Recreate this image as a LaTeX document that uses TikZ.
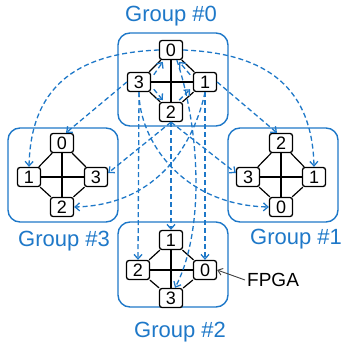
\documentclass[tikz,border=0pt]{standalone}
\usepackage{fontspec}
\setmainfont{Liberation Sans}
\usetikzlibrary{arrows.meta}
\definecolor{gblue}{RGB}{30,120,200}
\begin{document}
\begin{tikzpicture}[x=1pt,y=-1pt,
  grp/.style={draw=gblue,line width=1.4pt,rounded corners=12pt},
  nd/.style={draw=black,line width=1.3pt,rounded corners=2.5pt,fill=white,minimum width=23pt,minimum height=19pt,inner sep=0pt,font=\fontsize{18}{18}\selectfont},
  lnk/.style={black,line width=1.2pt},
  dsh/.style={gblue,line width=1.3pt,dash pattern=on 5pt off 3pt,-{Straight Barb[length=4.5pt,width=8pt]}},
  glabel/.style={text=gblue,font=\fontsize{22}{22}\selectfont,inner sep=0pt,anchor=base}
]
\useasboundingbox (0,0) rectangle (343,344);
% group boxes
\draw[grp] (118,33) rectangle (228,126);
\draw[grp] (8,128) rectangle (118,222);
\draw[grp] (228,128) rectangle (338,222);
\draw[grp] (118,222) rectangle (228,307);
% labels
\node[glabel] (l0) at (171,22) {Group \#0};
\node[glabel] (l3) at (64,246) {Group \#3};
\node[glabel] (l1) at (296,244) {Group \#1};
\node[glabel] (l2) at (180,337) {Group \#2};
% nodes group 0
\node[nd] (g0n0) at (171,50) {0};
\node[nd] (g0n3) at (139,82) {3};
\node[nd] (g0n1) at (205,82) {1};
\node[nd] (g0n2) at (171,112) {2};
% group 3
\node[nd] (g3n0) at (62,143) {0};
\node[nd] (g3n1) at (29,177) {1};
\node[nd] (g3n3) at (96,177) {3};
\node[nd] (g3n2) at (62,207) {2};
% group 1
\node[nd] (g1n2) at (281,143) {2};
\node[nd] (g1n3) at (248,177) {3};
\node[nd] (g1n1) at (314,177) {1};
\node[nd] (g1n0) at (281,207) {0};
% group 2
\node[nd] (g2n1) at (171,240) {1};
\node[nd] (g2n2) at (138,270) {2};
\node[nd] (g2n0) at (205,270) {0};
\node[nd] (g2n3) at (171,298) {3};
% intra-group links
\foreach \t/\l/\r/\b in {g0n0/g0n3/g0n1/g0n2, g3n0/g3n1/g3n3/g3n2, g1n2/g1n3/g1n1/g1n0, g2n1/g2n2/g2n0/g2n3}{
  \draw[lnk] (\t) -- (\b);
  \draw[lnk] (\l) -- (\r);
  \draw[lnk] (\t) -- (\l);
  \draw[lnk] (\t) -- (\r);
  \draw[lnk] (\b) -- (\l);
  \draw[lnk] (\b) -- (\r);
}
% dashed inter-group arrows
\draw[dsh] (g0n0.west) .. controls (85,53) and (31,80) .. (g3n1.north);
\draw[dsh] (g0n0.east) .. controls (257,53) and (312,80) .. (g1n1.north);
\draw[dsh] (g0n3.west) -- ([xshift=4pt]g3n0.north);
\draw[dsh] (g0n1.east) -- ([xshift=-4pt]g1n2.north);
\draw[dsh] (g0n2.south) -- ([yshift=4pt]g3n3.east);
\draw[dsh] (g0n2.south) -- ([yshift=4pt]g1n3.west);
\draw[dsh] (g0n1.south) .. controls (195,140) and (160,205) .. (g3n2.east);
\draw[dsh] (g0n3.south) .. controls (139,140) and (182,205) .. (g1n0.west);
\draw[dsh] (g0n3.south) -- (g2n2.north);
\draw[dsh] (g0n2.south) -- (g2n1.north);
\draw[dsh] (g0n1.south) -- (g2n0.north);
\draw[dsh] (g0n0.-60) .. controls (200,130) and (205,230) .. ([xshift=4pt]g2n3.north);
% dashed intra-group arrows in group 0
\coordinate (a3) at (153.8,74.8); \coordinate (a0l) at (162.8,61.8);
\coordinate (a1) at (190.2,74.8); \coordinate (a0r) at (179.2,61.8);
\coordinate (b3) at (153.8,89.2); \coordinate (b2l) at (162.8,100.2);
\coordinate (b2r) at (179.2,100.2); \coordinate (b1) at (190.2,89.2);
\draw[dsh] (a3) -- (a0l);
\draw[dsh] (a1) -- (a0r);
\draw[dsh] (b3) -- (b2l);
\draw[dsh] (b2r) -- (b1);
% FPGA label
\node[font=\fontsize{19}{19}\selectfont,anchor=west,inner sep=2pt] (fpga) at (245,280) {FPGA};
\draw[black!75,line width=0.9pt,-{Straight Barb[length=4.5pt,width=7pt]}] (fpga.west) -- (g2n0.east);
\end{tikzpicture}
\end{document}
